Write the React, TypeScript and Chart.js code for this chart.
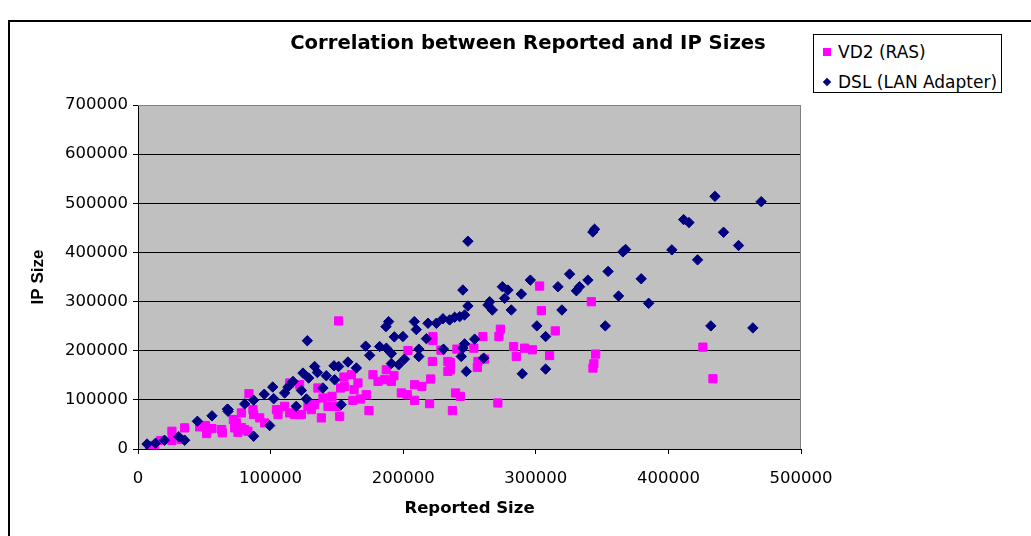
import React, { useEffect, useRef } from "react";
import { Chart, registerables } from "chart.js";

Chart.register(...registerables);

// ---- data ----
const chartTitle = "Correlation between Reported and IP Sizes";
const xTitle = "Reported Size";
const yTitle = "IP Size";
const seriesNames = ["VD2 (RAS)", "DSL (LAN Adapter)"];
const xRange = [0, 500000];
const yRange = [0, 700000];
const tickStep = 100000;

// VD2 (RAS): [reported size, IP size]
const vd2Points: number[][] = [
  [8800, 7100], [12600, 7100], [17100, 17200], [25600, 36100], [25600, 17200], [35200, 43000],
  [32700, 19300], [46500, 45000], [50800, 47700], [51800, 31400], [55800, 41600], [63100, 39500],
  [63600, 32900], [71900, 59800], [72900, 43000], [75400, 34100], [78000, 73400], [78000, 43600],
  [82900, 36100], [83700, 112600], [87200, 70000], [91800, 63300], [95500, 53100], [86700, 80100],
  [80400, 39500], [74200, 53100], [104400, 80100], [105600, 70000], [110600, 86800], [114400, 73400],
  [118100, 70000], [123200, 70000], [128200, 86800], [133200, 90200], [138300, 63300], [139500, 103800],
  [143300, 86800], [146300, 107100], [149600, 86800], [152800, 124100], [135700, 124100], [121900, 130800],
  [130700, 80100], [114400, 134300], [151300, 260600], [152100, 66500], [147000, 86800], [155300, 146400],
  [160900, 151100], [165900, 134300], [155800, 127400], [162900, 120700], [172200, 110500], [162100, 99000],
  [167900, 101800], [174200, 78100], [177200, 151100], [181000, 137500], [187300, 161200], [186000, 141000],
  [191100, 137500], [193000, 149100], [198600, 114000], [203100, 110500], [208600, 130800], [214100, 127400],
  [220700, 142400], [208600, 99000], [219900, 92300], [203600, 200400], [222400, 228800], [222400, 220600],
  [222000, 178100], [228500, 201200], [233700, 178100], [233700, 157800], [235500, 176000], [235500, 161200],
  [239500, 114000], [243100, 107100], [237100, 78100], [253300, 205200], [240500, 203200], [256400, 178100],
  [261400, 182900], [255900, 165900], [260100, 228800], [272200, 228800], [273300, 243800], [283300, 208500],
  [285300, 188200], [291600, 205200], [297400, 201800], [310400, 190200], [314700, 240300], [302900, 331600],
  [304200, 281500], [271400, 93700], [341900, 299700], [345100, 193100], [343800, 173400], [343100, 164700],
  [426000, 207300], [433600, 143000],
];

// DSL (LAN Adapter): [reported size, IP size]
const dslPoints: number[][] = [
  [6800, 10100], [13200, 11600], [20000, 17800], [30700, 24900], [35200, 17800], [44800, 56400],
  [55800, 67500], [68000, 80100], [67400, 81100], [67900, 76700], [80500, 91700], [87200, 99400],
  [87200, 26000], [95200, 111500], [101600, 126100], [102300, 102400], [99300, 47700], [110600, 114000],
  [113100, 126100], [116900, 137500], [119300, 86800], [123200, 119200], [124400, 154500], [127000, 101800],
  [128700, 144400], [127700, 220400], [133200, 167900], [135300, 155700], [142000, 149100], [139500, 124100],
  [147800, 169300], [148300, 140900], [151300, 167900], [153200, 90200], [158300, 177000], [164700, 164900],
  [171700, 209300], [174700, 190600], [182200, 208500], [187300, 205200], [191100, 194300], [191100, 174000],
  [196600, 171400], [200900, 182900], [211800, 203200], [211800, 188200], [189000, 259200], [187000, 249000],
  [193300, 228200], [199800, 228800], [208400, 259200], [209900, 243000], [218700, 255900], [225000, 255900],
  [230000, 265100], [217500, 224500], [230400, 203200], [235000, 262600], [238800, 268100], [242600, 269300],
  [246300, 272800], [245000, 323500], [248800, 422800], [248800, 291000], [253900, 223500], [246300, 214000],
  [245000, 205200], [243800, 188200], [247600, 157800], [260700, 185000], [265200, 299700], [263900, 293000],
  [267200, 282900], [274800, 330200], [279000, 323500], [276500, 306600], [281500, 282900], [289100, 315400],
  [295900, 343700], [300800, 250500], [307400, 228800], [289800, 153100], [307400, 162600], [316700, 330200],
  [325500, 355900], [330600, 322000], [333000, 330200], [339300, 343700], [319700, 282900], [343000, 441700],
  [344300, 447200], [354500, 361400], [352400, 250500], [362400, 311300], [365700, 401100], [367700, 406000],
  [379500, 346400], [385100, 296500], [402600, 405200], [411500, 466800], [415500, 460800], [422000, 384900],
  [435100, 514100], [441600, 441100], [452900, 414100], [432000, 250500], [463700, 246400], [470000, 503300],
];

const vd2Color = "#FF00FF";
const dslColor = "#000080";

const plotBackground = {
  id: "plotBackground",
  beforeDraw(chart: any) {
    const { ctx, chartArea } = chart;
    if (!chartArea) return;
    const { left, top, right, bottom } = chartArea;
    ctx.save();
    ctx.fillStyle = "#C0C0C0";
    ctx.fillRect(left, top, right - left, bottom - top);
    ctx.restore();
  },
  afterDraw(chart: any) {
    const { ctx, chartArea } = chart;
    if (!chartArea) return;
    const { left, top, right, bottom } = chartArea;
    ctx.save();
    ctx.strokeStyle = "#808080";
    ctx.lineWidth = 1;
    ctx.beginPath();
    ctx.moveTo(left, top + 0.5);
    ctx.lineTo(right - 0.5, top + 0.5);
    ctx.lineTo(right - 0.5, bottom);
    ctx.stroke();
    ctx.restore();
  },
};

const tickFont = { family: '"DejaVu Sans"', size: 16.5 };

export default function App() {
  const canvasRef = useRef<HTMLCanvasElement | null>(null);

  useEffect(() => {
    const canvas = canvasRef.current;
    if (!canvas) return;
    const chart = new Chart(canvas, {
      type: "scatter",
      data: {
        datasets: [
          {
            label: seriesNames[1],
            data: dslPoints.map(([x, y]) => ({ x, y })),
            pointStyle: "rectRot",
            pointRadius: 5.2,
            backgroundColor: dslColor,
            borderColor: dslColor,
            borderWidth: 1,
            order: 0,
          },
          {
            label: seriesNames[0],
            data: vd2Points.map(([x, y]) => ({ x, y })),
            pointStyle: "rect",
            pointRadius: 5.8,
            backgroundColor: vd2Color,
            borderColor: vd2Color,
            borderWidth: 1,
            order: 1,
          },
        ],
      },
      options: {
        responsive: false,
        animation: false,
        devicePixelRatio: 1,
        layout: { padding: { left: 0, top: 105, right: 230, bottom: 0 } },
        plugins: {
          legend: { display: false },
          tooltip: { enabled: false },
          title: { display: false },
        },
        scales: {
          x: {
            type: "linear",
            position: "bottom",
            min: xRange[0],
            max: xRange[1],
            ticks: {
              stepSize: tickStep,
              color: "#000",
              font: tickFont,
              padding: 15,
              maxRotation: 0,
              callback: (v: any) => String(v),
            },
            grid: {
              drawOnChartArea: false,
              drawTicks: true,
              tickLength: 5,
              color: "#000",
              tickColor: "#000",
            },
            border: { display: true, color: "#000", width: 1 },
            title: {
              display: true,
              text: xTitle,
              color: "#000",
              font: { family: '"DejaVu Sans"', size: 16.5, weight: "bold" },
              padding: { top: 0, bottom: 17 },
            },
            afterFit: (s: any) => {
              s.height = 87;
            },
          },
          y: {
            type: "linear",
            position: "left",
            min: yRange[0],
            max: yRange[1],
            ticks: {
              stepSize: tickStep,
              color: "#000",
              font: tickFont,
              padding: 5,
              callback: (v: any) => String(v),
            },
            grid: {
              drawOnChartArea: true,
              drawTicks: true,
              tickLength: 5,
              color: (c: any) => (c.tick && c.tick.value === yRange[1] ? "#808080" : "#000"),
              tickColor: "#000",
              lineWidth: 1,
            },
            border: { display: true, color: "#000", width: 1 },
            title: {
              display: true,
              text: yTitle,
              color: "#000",
              font: { family: '"Liberation Sans"', size: 17, weight: "bold" },
              padding: { top: 28, bottom: 0 },
            },
            afterFit: (s: any) => {
              s.width = 138;
            },
          },
        },
      },
      plugins: [plotBackground],
    });
    return () => chart.destroy();
  }, []);

  return (
    <div
      style={{
        position: "absolute",
        left: 0,
        top: 0,
        width: 1031,
        height: 536,
        overflow: "hidden",
        background: "#fff",
      }}
    >
      <div
        style={{
          position: "absolute",
          left: 8,
          top: 20,
          width: 1100,
          height: 600,
          borderLeft: "2px solid #000",
          borderTop: "2px solid #000",
        }}
      />
      <canvas
        ref={canvasRef}
        width={1031}
        height={536}
        style={{ position: "absolute", left: 0, top: 0, width: 1031, height: 536 }}
      />
      <div
        style={{
          position: "absolute",
          left: 528,
          top: 33,
          transform: "translateX(-50%)",
          whiteSpace: "nowrap",
          fontFamily: '"DejaVu Sans"',
          fontWeight: "bold",
          fontSize: 19.6,
          lineHeight: 1,
          color: "#000",
        }}
      >
        {chartTitle}
      </div>
      <div
        style={{
          position: "absolute",
          left: 813,
          top: 34,
          width: 189,
          height: 59,
          boxSizing: "border-box",
          border: "1px solid #000",
          background: "#fff",
        }}
      />
      <div
        style={{ position: "absolute", left: 823, top: 48, width: 8, height: 8, background: vd2Color }}
      />
      <div
        style={{
          position: "absolute",
          left: 824,
          top: 79,
          width: 6,
          height: 6,
          background: dslColor,
          transform: "rotate(45deg)",
        }}
      />
      <div
        style={{
          position: "absolute",
          left: 838,
          top: 44,
          whiteSpace: "nowrap",
          fontFamily: '"DejaVu Sans"',
          fontSize: 17,
          lineHeight: 1,
          color: "#000",
        }}
      >
        {seriesNames[0]}
      </div>
      <div
        style={{
          position: "absolute",
          left: 838,
          top: 74,
          whiteSpace: "nowrap",
          fontFamily: '"DejaVu Sans"',
          fontSize: 17,
          lineHeight: 1,
          color: "#000",
        }}
      >
        {seriesNames[1]}
      </div>
    </div>
  );
}
